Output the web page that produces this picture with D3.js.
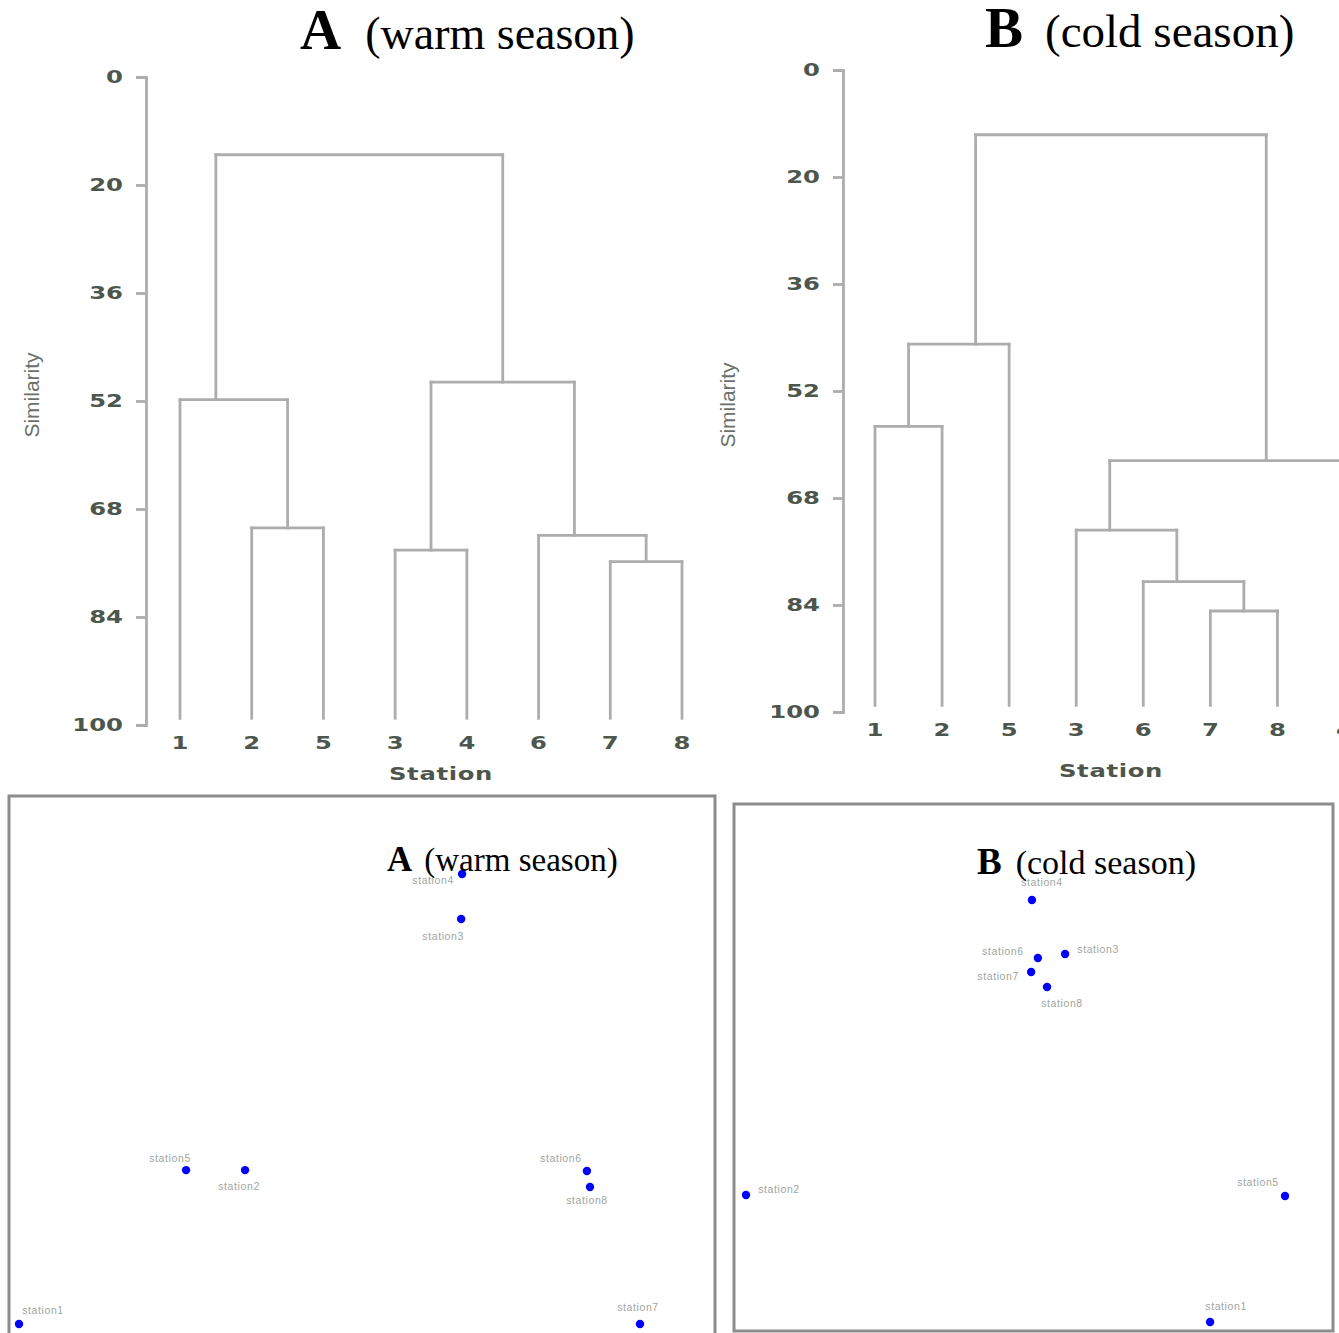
<!DOCTYPE html>
<html>
<head>
<meta charset="utf-8">
<script src="https://cdn.jsdelivr.net/npm/d3@7"></script>
<style>
  body { margin: 0; background: #fff; }
  svg { display: block; }
</style>
</head>
<body>
<svg id="chart" width="1339" height="1333"></svg>
<script>
// similarity axis labels (drawn evenly spaced, as in the original)
const simTicks = [0, 20, 36, 52, 68, 84, 100];

// warm season dendrogram
const warmLeaves = ["1", "2", "5", "3", "4", "6", "7", "8"];
const warmMerges = [
  { id: "m1", a: "7", b: "8", sim: 75.8 },
  { id: "m2", a: "2", b: "5", sim: 70.8 },
  { id: "m3", a: "3", b: "4", sim: 74.1 },
  { id: "m4", a: "6", b: "m1", sim: 71.9 },
  { id: "m5", a: "1", b: "m2", sim: 51.8 },
  { id: "m6", a: "m3", b: "m4", sim: 49.2 },
  { id: "m7", a: "m5", b: "m6", sim: 14.4 }
];

// cold season dendrogram
const coldLeaves = ["1", "2", "5", "3", "6", "7", "8", "4"];
const coldMerges = [
  { id: "m1", a: "7", b: "8", sim: 84.9 },
  { id: "m2", a: "1", b: "2", sim: 57.3 },
  { id: "m3", a: "6", b: "m1", sim: 80.5 },
  { id: "m4", a: "3", b: "m3", sim: 72.8 },
  { id: "m5", a: "m2", b: "5", sim: 45.0 },
  { id: "m6", a: "m4", b: "4", sim: 62.4 },
  { id: "m7", a: "m5", b: "m6", sim: 12.1 }
];

// MDS ordination coordinates
const stations = ["station1", "station2", "station3", "station4", "station5", "station6", "station7", "station8"];
const warmDim1 = [-1.00, -0.272, 0.424, 0.427, -0.462, 0.829, 1.00, 0.839];
const warmDim2 = [-1.00, -0.316, 0.800, 1.00, -0.316, -0.320, -1.00, -0.391];
const coldDim1 = [0.722, -1.00, 0.184, 0.061, 1.00, 0.083, 0.058, 0.117];
const coldDim2 = [-1.00, -0.398, 0.744, 1.00, -0.403, 0.725, 0.659, 0.588];

// label placement next to each point (style, not data)
const warmLabelOffset = [[24, -14], [-6, 16], [-18, 17], [-29, 6], [-16, -12], [-26, -13], [-2, -17], [-3, 13]];
const coldLabelOffset = [[16, -16], [33, -6], [33, -5], [10, -18], [-27, -14], [-35, -7], [-33, 4], [15, 16]];

const svg = d3.select("#chart");
const lineCol = "#adadad";
const textCol = "#4d564d";
const tickFont = "'DejaVu Sans', sans-serif";
const stretch = 1.35; // the original digits are drawn wide

function wideText(sel, size) {
  sel.attr("fill", textCol).attr("font-family", tickFont).attr("font-weight", "bold")
    .attr("font-size", size);
}

function dendrogram(cfg) {
  const g = svg.append("g");
  const y = d3.scaleLinear()
    .domain(simTicks)
    .range(simTicks.map((_, i) => cfg.top + i * (cfg.bottom - cfg.top) / (simTicks.length - 1)));
  const x = d3.scalePoint().domain(cfg.leaves).range(cfg.xRange);

  // node positions: leaf counts double against a cluster
  const nodes = {};
  cfg.leaves.forEach(l => nodes[l] = { x: x(l), sim: 99, leaf: true });
  cfg.merges.forEach(m => {
    const a = nodes[m.a], b = nodes[m.b];
    let nx;
    if (a.leaf && !b.leaf) nx = (2 * a.x + b.x) / 3;
    else if (!a.leaf && b.leaf) nx = (a.x + 2 * b.x) / 3;
    else nx = (a.x + b.x) / 2;
    nodes[m.id] = { x: nx, sim: m.sim, leaf: false };
  });

  const segs = [];
  cfg.merges.forEach(m => {
    const a = nodes[m.a], b = nodes[m.b];
    segs.push([a.x, m.sim, a.x, a.sim]);
    segs.push([b.x, m.sim, b.x, b.sim]);
    segs.push([a.x, m.sim, b.x, m.sim]);
  });
  g.selectAll("line.seg").data(segs).join("line")
    .attr("class", "seg")
    .attr("x1", d => d[0]).attr("y1", d => y(d[1]))
    .attr("x2", d => d[2]).attr("y2", d => y(d[3]))
    .attr("stroke", lineCol).attr("stroke-width", 2.8)
    .attr("stroke-linecap", "square");

  // y axis
  const ax = g.append("g")
    .attr("transform", `translate(${cfg.axisX},0)`)
    .call(d3.axisLeft(y).tickValues(simTicks).tickSize(10).tickPadding(12).tickFormat(d3.format("d")));
  ax.selectAll("path, line").attr("stroke", lineCol).attr("stroke-width", 2.8);
  ax.selectAll("text")
    .call(wideText, 18)
    .attr("x", -23 / stretch)
    .attr("transform", `scale(${stretch},1)`);

  // leaf labels
  g.selectAll("text.leaf").data(cfg.leaves).join("text")
    .attr("class", "leaf")
    .attr("transform", d => `translate(${x(d)},${cfg.bottom + 24}) scale(${stretch},1)`)
    .attr("text-anchor", "middle")
    .call(wideText, 18)
    .text(d => d);

  g.append("text")
    .attr("transform", `translate(${cfg.stationX},${cfg.stationY}) scale(${stretch},1)`)
    .attr("text-anchor", "middle")
    .call(wideText, 18)
    .attr("letter-spacing", 0.5)
    .text("Station");

  g.append("text")
    .attr("transform", `translate(${cfg.simX},${cfg.simY}) rotate(-90)`)
    .attr("text-anchor", "middle")
    .attr("fill", "#6a716a").attr("font-family", "'Liberation Sans', Arial, sans-serif")
    .attr("font-size", 21)
    .text("Similarity");
}

function title(x, y, letter, rest, bigSize, smallSize, gap) {
  const t = svg.append("text")
    .attr("x", x).attr("y", y)
    .attr("font-family", "'Liberation Serif', 'Times New Roman', serif")
    .attr("fill", "#000");
  t.append("tspan").attr("font-weight", "bold").attr("font-size", bigSize).text(letter);
  t.append("tspan").attr("dx", gap).attr("font-size", smallSize).text(rest);
}

dendrogram({
  leaves: warmLeaves, merges: warmMerges,
  top: 77, bottom: 725, axisX: 146, xRange: [180, 682],
  stationX: 441, stationY: 780, simX: 39, simY: 395
});
dendrogram({
  leaves: coldLeaves, merges: coldMerges,
  top: 70, bottom: 712, axisX: 843, xRange: [875, 1344.5],
  stationX: 1111, stationY: 777, simX: 735, simY: 405
});

title(300, 49, "A", "(warm season)", 57, 46, 24);
title(985, 47, "B", "(cold season)", 57, 47, 22);

function ordination(cfg) {
  const g = svg.append("g");
  g.append("rect")
    .attr("x", cfg.box[0]).attr("y", cfg.box[1])
    .attr("width", cfg.box[2]).attr("height", cfg.box[3])
    .attr("fill", "none").attr("stroke", "#8c8c8c").attr("stroke-width", 3);

  const x = d3.scaleLinear().domain([-1, 1]).range(cfg.xRange);
  const y = d3.scaleLinear().domain([-1, 1]).range(cfg.yRange);
  const pts = stations.map((s, i) => ({ name: s, d1: cfg.d1[i], d2: cfg.d2[i], off: cfg.off[i] }));

  g.selectAll("text.lab").data(pts).join("text")
    .attr("class", "lab")
    .attr("x", d => x(d.d1) + d.off[0]).attr("y", d => y(d.d2) + d.off[1] + 4)
    .attr("text-anchor", "middle")
    .attr("fill", "#a0a6a0").attr("font-family", "'Liberation Sans', Arial, sans-serif")
    .attr("font-size", 10.5).attr("letter-spacing", 0.6)
    .text(d => d.name);

  g.selectAll("circle").data(pts).join("circle")
    .attr("cx", d => x(d.d1)).attr("cy", d => y(d.d2))
    .attr("r", 4.2).attr("fill", "#0000ff");
}

ordination({
  box: [9, 796, 706, 545], xRange: [19, 640], yRange: [1324, 874],
  d1: warmDim1, d2: warmDim2, off: warmLabelOffset
});
ordination({
  box: [734, 804, 599, 527], xRange: [746, 1285], yRange: [1322, 900],
  d1: coldDim1, d2: coldDim2, off: coldLabelOffset
});

title(387, 871, "A", "(warm season)", 35, 33, 12);
title(977, 874, "B", "(cold season)", 37, 34, 14);
</script>
</body>
</html>
